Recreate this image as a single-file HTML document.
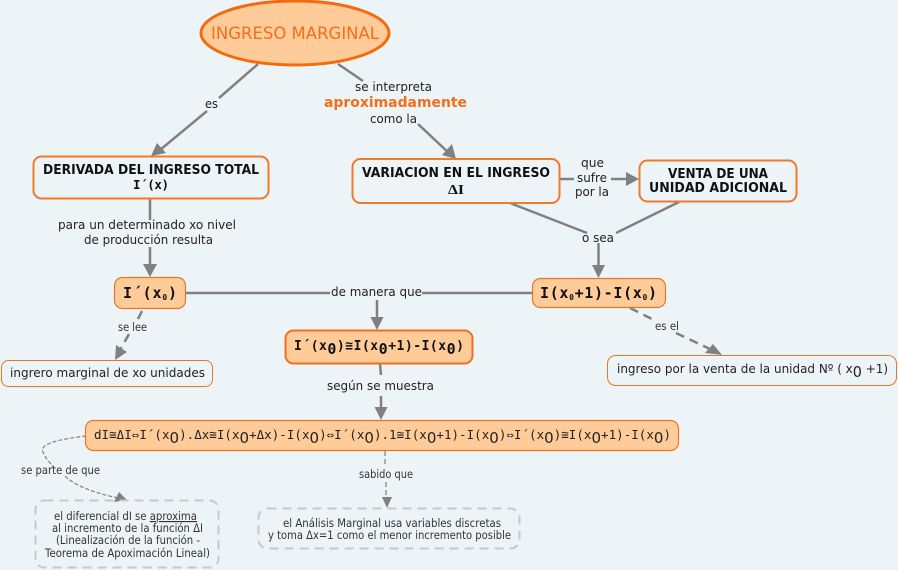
<!DOCTYPE html>
<html><head><meta charset="utf-8"><style>
html,body{margin:0;padding:0;background:#edf4f7;width:898px;height:570px;overflow:hidden}
svg{display:block}
text{font-family:"DejaVu Sans","Liberation Sans",sans-serif;fill:#222;font-size:12.5px}
.b{font-weight:bold;fill:#111;font-size:13px}
.o{fill:#f0701a}
.s{font-size:11.5px;fill:#333}
.f{font-family:"DejaVu Sans Mono","Liberation Mono",monospace}
.l{stroke:#808080;stroke-width:2.5;fill:none}
.d{stroke:#808080;stroke-width:2.5;fill:none;stroke-dasharray:9 6}
.a{fill:#808080}
</style></head><body>
<svg width="898" height="570" viewBox="0 0 898 570" xmlns="http://www.w3.org/2000/svg">
<rect width="898" height="570" fill="#edf4f7"/>

<!-- connectors -->
<path class="l" d="M258 64L219 98M207 111L160 150"/>
<path class="a" d="M151 156L157 143L166 153Z"/>
<path class="l" d="M338 64L363 81M418 124L451 155"/>
<path class="a" d="M456 159L442 155L452 144Z"/>
<path class="l" d="M150 199V220M150 247V268"/>
<path class="a" d="M150 277L143 264H157Z"/>
<path class="l" d="M560 179H574M611 179H628"/>
<path class="a" d="M639 179L626 172V186Z"/>
<path class="l" d="M510 203L587 233M616 233L679 202M598.500 243V268"/>
<path class="a" d="M598.500 278L592 265H605Z"/>
<path class="l" d="M185 293H330M422 293H532M377 300V320"/>
<path class="a" d="M377 330L370.500 317H383.500Z"/>
<path class="l" d="M380 364L381 375M381 396V411"/>
<path class="a" d="M381 420L374.500 407H387.500Z"/>
<path class="d" d="M142 311L137 321M129 334L120 350"/>
<path class="a" d="M115 360L116 345L127 352Z"/>
<path class="d" d="M630 308L652 319M676 333L712 350"/>
<path class="a" d="M722 355L705 353L713 344Z"/>
<path d="M86 436C70 438 38 442 43 452C46 460 50 462 53 467M65 476C75 486 95 493 118 498" fill="none" stroke="#808080" stroke-width="1.200" stroke-dasharray="4 2"/>
<path class="a" d="M127 500L114 502L119 492Z"/>
<path d="M385 451V466M386 482V498" fill="none" stroke="#808080" stroke-width="1.200" stroke-dasharray="5 3"/>
<path class="a" d="M387 508L382 497H392Z"/>

<!-- nodes -->
<ellipse cx="295" cy="33" rx="94" ry="32" fill="#ffcc99" stroke="#f26c0d" stroke-width="3"/>
<text x="211" y="39" textLength="168" lengthAdjust="spacingAndGlyphs" style="font-size:17px" class="o">INGRESO MARGINAL</text>

<rect x="33.500" y="156.500" width="235" height="42" rx="8" fill="#edf4f7" stroke="#f07a2a" stroke-width="2"/>
<text class="b" x="43" y="174" textLength="216" lengthAdjust="spacingAndGlyphs">DERIVADA DEL INGRESO TOTAL</text>
<text class="b f" x="133" y="189" textLength="36" lengthAdjust="spacing" style="font-size:12.5px">I´(x)</text>

<rect x="352.500" y="159" width="207" height="44" rx="8" fill="#edf4f7" stroke="#f07a2a" stroke-width="2"/>
<text class="b" x="362" y="177" textLength="188" lengthAdjust="spacingAndGlyphs">VARIACION EN EL INGRESO</text>
<text class="b" x="448" y="194" textLength="16" lengthAdjust="spacingAndGlyphs" style="font-family:'Liberation Serif',serif;font-size:14px">ΔI</text>

<rect x="639.500" y="160.500" width="157" height="41" rx="8" fill="#edf4f7" stroke="#f07a2a" stroke-width="2"/>
<text class="b" x="668" y="178" textLength="100" lengthAdjust="spacingAndGlyphs">VENTA DE UNA</text>
<text class="b" x="649" y="192" textLength="138" lengthAdjust="spacingAndGlyphs">UNIDAD ADICIONAL</text>

<rect x="114.500" y="277.500" width="71" height="31" rx="8" fill="#ffcc99" stroke="#e8762a" stroke-width="1.200"/>
<text class="b f" x="123" y="298" textLength="54" lengthAdjust="spacing" style="font-size:15px">I´(x<tspan font-size="8" dy="2">0</tspan><tspan dy="-2">)</tspan></text>

<rect x="532.500" y="278.500" width="133" height="29" rx="8" fill="#ffcc99" stroke="#e8762a" stroke-width="1.200"/>
<text class="b f" x="540" y="298" textLength="117" lengthAdjust="spacing" style="font-size:15px">I(x<tspan font-size="8" dy="2">0</tspan><tspan dy="-2">+1)-I(x</tspan><tspan font-size="8" dy="2">0</tspan><tspan dy="-2">)</tspan></text>

<rect x="285.500" y="330.500" width="187" height="33" rx="8" fill="#ffcc99" stroke="#f07020" stroke-width="2"/>
<text class="b f" x="294" y="350" textLength="170" lengthAdjust="spacing" style="font-size:13px">I´(x<tspan font-size="15" dy="4">0</tspan><tspan dy="-4">)≅I(x</tspan><tspan font-size="15" dy="4">0</tspan><tspan dy="-4">+1)-I(x</tspan><tspan font-size="15" dy="4">0</tspan><tspan dy="-4">)</tspan></text>

<rect x="1.500" y="360.500" width="211" height="26" rx="7" fill="#edf4f7" stroke="#e8762a" stroke-width="1"/>
<text x="10" y="377" textLength="195" lengthAdjust="spacingAndGlyphs">ingrero marginal de xo unidades</text>

<rect x="607.500" y="355.500" width="289" height="30" rx="8" fill="#edf4f7" stroke="#e8762a" stroke-width="1"/>
<text x="617" y="373" textLength="271" lengthAdjust="spacingAndGlyphs">ingreso por la venta de la unidad Nº ( x<tspan font-size="15" dy="4">0</tspan><tspan dy="-4"> +1)</tspan></text>

<rect x="85.500" y="420.500" width="593" height="30" rx="8" fill="#ffcc99" stroke="#e8762a" stroke-width="1.200"/>
<text class="f" x="94" y="439" textLength="577" lengthAdjust="spacing" style="font-size:12.500px">dI≅ΔI⇔I´(x<tspan font-size="15" font-family="DejaVu Sans" dy="4">0</tspan><tspan dy="-4">).Δx≅I(x</tspan><tspan font-size="15" font-family="DejaVu Sans" dy="4">0</tspan><tspan dy="-4">+Δx)-I(x</tspan><tspan font-size="15" font-family="DejaVu Sans" dy="4">0</tspan><tspan dy="-4">)⇔I´(x</tspan><tspan font-size="15" font-family="DejaVu Sans" dy="4">0</tspan><tspan dy="-4">).1≅I(x</tspan><tspan font-size="15" font-family="DejaVu Sans" dy="4">0</tspan><tspan dy="-4">+1)-I(x</tspan><tspan font-size="15" font-family="DejaVu Sans" dy="4">0</tspan><tspan dy="-4">)⇔I´(x</tspan><tspan font-size="15" font-family="DejaVu Sans" dy="4">0</tspan><tspan dy="-4">)≅I(x</tspan><tspan font-size="15" font-family="DejaVu Sans" dy="4">0</tspan><tspan dy="-4">+1)-I(x</tspan><tspan font-size="15" font-family="DejaVu Sans" dy="4">0</tspan><tspan dy="-4">)</tspan></text>

<rect x="35.500" y="500.500" width="183" height="67" rx="9" fill="none" stroke="#c8c8c8" stroke-width="2" stroke-dasharray="9 6"/>
<text class="s" x="54" y="520" textLength="143" lengthAdjust="spacingAndGlyphs">el diferencial dI se <tspan text-decoration="underline">aproxima</tspan></text>
<text class="s" x="52" y="532" textLength="151" lengthAdjust="spacingAndGlyphs">al incremento de la función ΔI</text>
<text class="s" x="56" y="544" textLength="144" lengthAdjust="spacingAndGlyphs">(Linealización de la función -</text>
<text class="s" x="45" y="557" textLength="165" lengthAdjust="spacingAndGlyphs">Teorema de Apoximación Lineal)</text>

<rect x="258.500" y="508.500" width="261" height="40" rx="9" fill="none" stroke="#c8c8c8" stroke-width="2" stroke-dasharray="9 6"/>
<text class="s" x="283" y="527" textLength="218" lengthAdjust="spacingAndGlyphs">el Análisis Marginal  usa variables discretas</text>
<text class="s" x="268" y="539" textLength="243" lengthAdjust="spacingAndGlyphs">y toma Δx=1 como el menor incremento posible</text>

<!-- labels -->
<text x="205" y="108" textLength="13" lengthAdjust="spacingAndGlyphs">es</text>
<text x="355" y="91" textLength="77" lengthAdjust="spacingAndGlyphs">se interpreta</text>
<text class="b" x="324" y="107" textLength="143" lengthAdjust="spacingAndGlyphs" style="font-size:14px;fill:#f0701a">aproximadamente</text>
<text x="370" y="123" textLength="47" lengthAdjust="spacingAndGlyphs">como la</text>
<text x="581" y="167" textLength="23" lengthAdjust="spacingAndGlyphs">que</text>
<text x="577" y="182" textLength="30" lengthAdjust="spacingAndGlyphs">sufre</text>
<text x="575" y="196" textLength="34" lengthAdjust="spacingAndGlyphs">por la</text>
<text x="582" y="242" textLength="32" lengthAdjust="spacingAndGlyphs">o sea</text>
<text x="58" y="229" textLength="178" lengthAdjust="spacingAndGlyphs">para un determinado xo nivel</text>
<text x="84" y="244" textLength="129" lengthAdjust="spacingAndGlyphs">de producción resulta</text>
<text x="331" y="296" textLength="91" lengthAdjust="spacingAndGlyphs">de manera que</text>
<text x="327" y="390" textLength="107" lengthAdjust="spacingAndGlyphs">según se muestra</text>
<text class="s" x="118" y="331" textLength="29" lengthAdjust="spacingAndGlyphs">se lee</text>
<text class="s" x="655" y="330" textLength="24" lengthAdjust="spacingAndGlyphs">es el</text>
<text class="s" x="21" y="474" textLength="79" lengthAdjust="spacingAndGlyphs">se parte de que</text>
<text class="s" x="359" y="478" textLength="54" lengthAdjust="spacingAndGlyphs">sabido que</text>
</svg>
</body></html>
